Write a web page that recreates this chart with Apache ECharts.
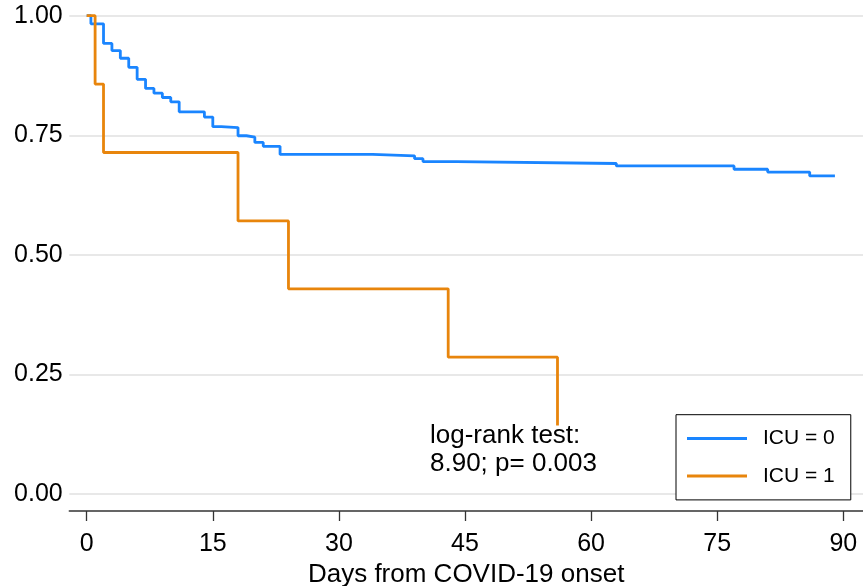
<!DOCTYPE html>
<html><head><meta charset="utf-8">
<script src="https://cdn.jsdelivr.net/npm/echarts@6/dist/echarts.min.js"></script>
<style>html,body{margin:0;padding:0;background:#fff}#c{width:863px;height:586px}</style>
</head><body><div id="c"></div>
<script>
const icu0Days = [0,0.5,2,3,4,5,6,7,8,9,10,11,14,15,16,18,19,20,21,23,34,39,40,44,63,77,81,86,89];
const icu0Surv = [1,0.983,0.942,0.927,0.911,0.892,0.867,0.848,0.838,0.829,0.820,0.799,0.788,0.768,0.766,0.749,0.746,0.735,0.727,0.710,0.707,0.701,0.695,0.691,0.686,0.679,0.673,0.665,0.665];
const icu1Days = [0,1,2,18,24,43,56];
const icu1Surv = [1,0.857,0.714,0.571,0.429,0.286,0.143];
const xTicks = [0,15,30,45,60,75,90];
const yTicks = [0,0.25,0.5,0.75,1];
const seriesNames = ['ICU = 0','ICU = 1'];
const xTitle = 'Days from COVID-19 onset';
const noteLines = ['log-rank test:','8.90; p= 0.003'];

const FONT = "'Liberation Sans', Arial, sans-serif";
const colors = ['#1a85ff','#e8850c'];
const chart = echarts.init(document.getElementById('c'), null, {renderer:'canvas'});
function pairs(d, s){ return d.map((v,i)=>[v, s[i]]); }
chart.setOption({
  animation: false,
  backgroundColor: '#fff',
  grid: {left: 69.3, right: 0, top: 15.7, bottom: 92, containLabel: false, outerBoundsMode: 'none'},
  xAxis: {
    type: 'value', min: -2.07, max: 92.34,
    offset: 17,
    axisLine: {onZero: false, lineStyle: {color: '#333', width: 1.5}},
    axisTick: {length: 10, customValues: xTicks, lineStyle: {color: '#333', width: 1.3}},
    axisLabel: {customValues: xTicks, margin: 21, fontSize: 25, color: '#000', fontFamily: FONT},
    splitLine: {show: false},
    name: xTitle, nameLocation: 'middle', nameGap: 46,
    nameTextStyle: {fontSize: 26, color: '#000', fontFamily: FONT}
  },
  yAxis: {
    type: 'value', min: yTicks[0], max: yTicks[yTicks.length-1], interval: yTicks[1]-yTicks[0],
    axisLine: {show: false, onZero: false},
    axisTick: {show: false},
    axisLabel: {margin: 6.6, fontSize: 25, color: '#000', fontFamily: FONT, padding: [4,0,0,0], formatter: v => v.toFixed(2)},
    splitLine: {lineStyle: {color: '#e0e0e0', width: 1.6}}
  },
  legend: {
    orient: 'vertical', left: 676, top: 414.7,
    padding: [13.4, 16, 13.4, 11],
    itemGap: 16.4, itemWidth: 60, itemHeight: 3, icon: 'rect',
    backgroundColor: '#fff', borderColor: '#000', borderWidth: 1, borderRadius: 0,
    selectedMode: false,
    textStyle: {fontSize: 21, color: '#000', fontFamily: FONT, padding: [0,0,0,11]},
    data: seriesNames
  },
  series: [
    {name: seriesNames[0], type: 'line', step: 'end', symbol: 'none', clip: false,
     lineStyle: {color: colors[0], width: 2.8}, itemStyle: {color: colors[0]},
     data: pairs(icu0Days, icu0Surv)},
    {name: seriesNames[1], type: 'line', step: 'end', symbol: 'none', clip: false,
     lineStyle: {color: colors[1], width: 2.8}, itemStyle: {color: colors[1]},
     data: pairs(icu1Days, icu1Surv)}
  ],
  graphic: [{
    type: 'text', left: 430, top: 422, z: 10,
    style: {text: noteLines.join('\n'), font: '26px ' + FONT, lineHeight: 28, fill: '#000'}
  }]
});
</script></body></html>
